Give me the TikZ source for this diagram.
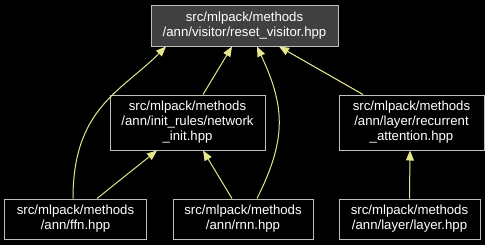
\documentclass[tikz,border=0pt]{standalone}
\usepackage{fontspec}
\setmainfont{Liberation Sans}
\usepackage{tikz}
\usetikzlibrary{shapes}
\usetikzlibrary{arrows.meta}
\definecolor{edgecol}{HTML}{E6E68C}
\definecolor{boxline}{HTML}{BFBFBF}
\definecolor{curfill}{HTML}{404040}

\begin{document}
\begin{tikzpicture}[x=1bp,y=-1bp,
  file/.style={draw=boxline,line width=1bp,text=white,align=center,
    inner sep=0pt,font=\fontsize{13.2bp}{15bp}\selectfont},
  edge/.style={draw=edgecol,line width=1bp,-{Triangle[length=10bp,width=8bp]}}]
\fill [black] (0,0) rectangle (485,245);
\useasboundingbox (0,0) rectangle (485,245);
%%%%%%%%%
\node [file,fill=curfill,minimum width=187bp,minimum height=41bp] (reset) at (244.5,25.5)
  {src/mlpack/methods\\/ann/visitor/reset\_visitor.hpp};
\node [file,minimum width=155bp,minimum height=55bp] (netinit) at (187.5,122.5)
  {src/mlpack/methods\\/ann/init\_rules/network\\\_init.hpp};
\node [file,minimum width=145bp,minimum height=55bp] (recatt) at (411.5,122.5)
  {src/mlpack/methods\\/ann/layer/recurrent\\\_attention.hpp};
\node [file,minimum width=141bp,minimum height=40bp] (ffn) at (75.5,219)
  {src/mlpack/methods\\/ann/ffn.hpp};
\node [file,minimum width=140bp,minimum height=40bp] (rnn) at (243,219)
  {src/mlpack/methods\\/ann/rnn.hpp};
\node [file,minimum width=141bp,minimum height=40bp] (layer) at (409.5,219)
  {src/mlpack/methods\\/ann/layer/layer.hpp};
%%%%%%%%%
\draw [edge] ([xshift=15.5bp]netinit.north) -- ([xshift=-12.5bp]reset.south);
\draw [edge] ([xshift=21.5bp]ffn.north) -- ([xshift=-30.5bp]netinit.south);
\draw [edge] ([xshift=-11bp]rnn.north) -- ([xshift=15.5bp]netinit.south);
\draw [edge] ([xshift=-48.5bp]recatt.north) -- ([xshift=34.5bp]reset.south);
\draw [edge] (layer.north) -- ([xshift=-1.5bp]recatt.south);
\draw [edge] ([xshift=-2.5bp]ffn.north) .. controls +(0,-90) and +(-45,45) .. ([xshift=-78.5bp]reset.south);
\draw [edge] ([xshift=14bp]rnn.north) .. controls +(30,-60) and +(28,60) .. ([xshift=12.5bp]reset.south);
%%%%%%%%%
\end{tikzpicture}
\end{document}
